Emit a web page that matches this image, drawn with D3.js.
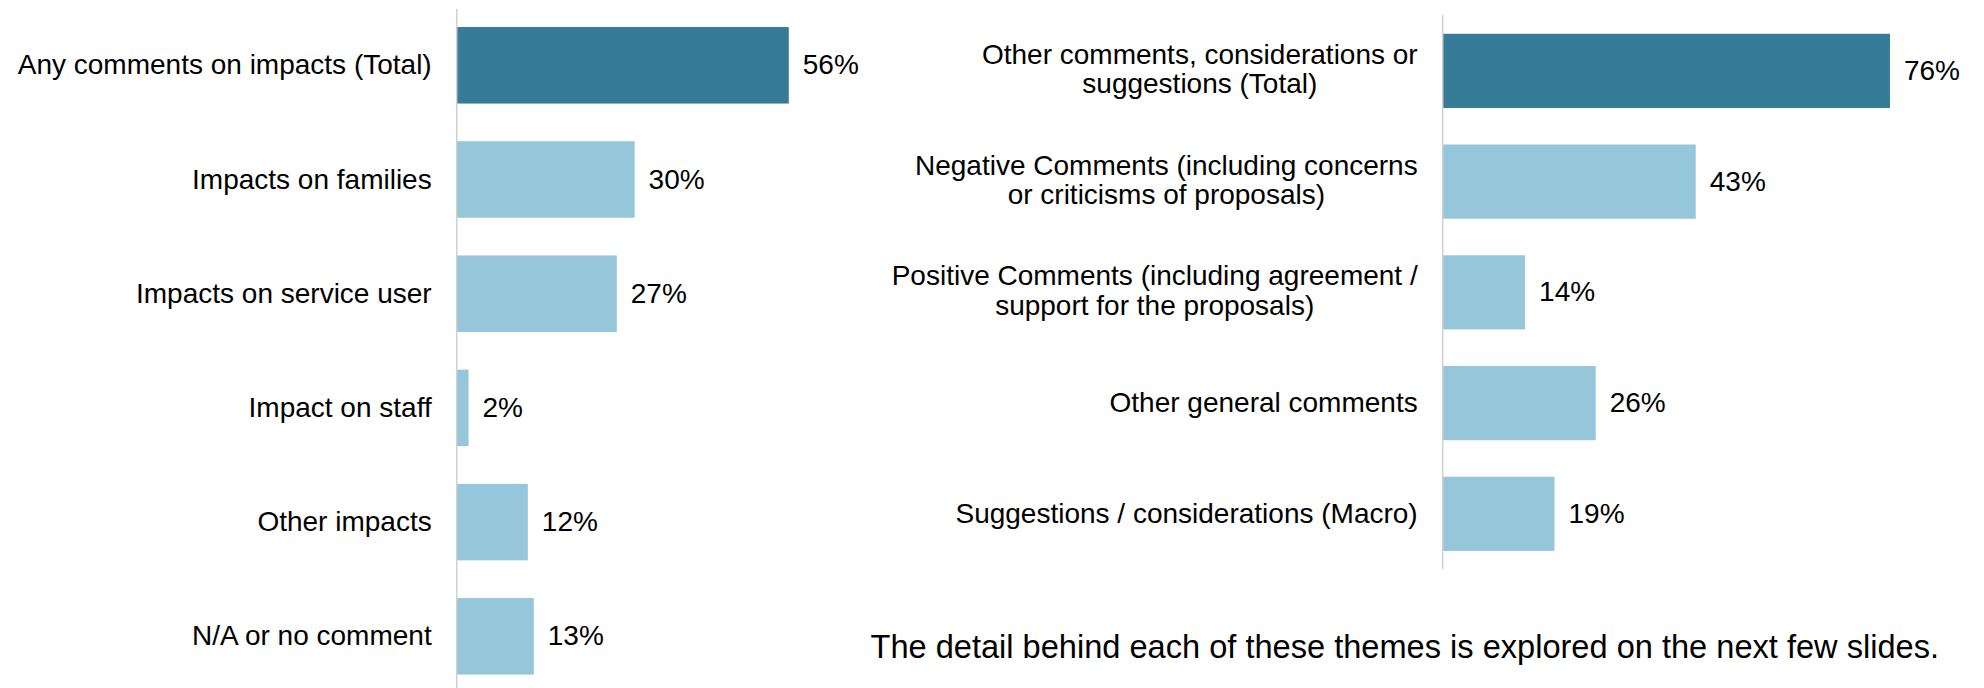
<!DOCTYPE html>
<html><head><meta charset="utf-8">
<script src="https://cdn.jsdelivr.net/npm/d3@7"></script>
<style>html,body{margin:0;padding:0;background:#fff;} svg{display:block;}</style>
</head><body><svg id="c" width="1984" height="688"></svg>
<script>
// ---- data ----
const leftCategories = ["Any comments on impacts (Total)", "Impacts on families", "Impacts on service user", "Impact on staff", "Other impacts", "N/A or no comment"];
const leftValues = [56, 30, 27, 2, 12, 13];
const leftIsTotal = [true, false, false, false, false, false];

const rightCategories = [
  "Other comments, considerations or\nsuggestions (Total)",
  "Negative Comments (including concerns\nor criticisms of proposals)",
  "Positive Comments (including agreement /\nsupport for the proposals)",
  "Other general comments",
  "Suggestions / considerations (Macro)"
];
const rightValues = [76, 43, 14, 26, 19];
const rightIsTotal = [true, false, false, false, false];

const footnote = "The detail behind each of these themes is explored on the next few slides.";

// ---- drawing ----
const W = 1984, H = 688;
const svg = d3.select("#c");
const FONT = "'Liberation Sans', Arial, sans-serif";
const DARK = "#367B97", LIGHT = "#96C6DA", AXIS = "#D0D0D0";

function panel(cfg) {
  const x = d3.scaleLinear().domain([0, 100]).range([cfg.x0, cfg.x0 + cfg.pxPer100]);
  const y = d3.scaleBand().domain(cfg.cats).range([cfg.y0, cfg.y1]).paddingInner(0.33).paddingOuter(0.165);
  const g = svg.append("g");
  const data = cfg.cats.map((c, i) => ({c, v: cfg.vals[i], total: cfg.total[i]}));

  g.selectAll("rect").data(data).join("rect")
    .attr("x", x(0)).attr("y", d => y(d.c))
    .attr("width", d => x(d.v) - x(0)).attr("height", y.bandwidth())
    .attr("fill", d => d.total ? DARK : LIGHT);

  g.append("line")
    .attr("x1", x(0)).attr("x2", x(0))
    .attr("y1", cfg.lineTop).attr("y2", Math.min(cfg.lineBottom, H))
    .attr("stroke", AXIS).attr("stroke-width", 1.5);

  // value labels
  g.selectAll("text.val").data(data).join("text").attr("class", "val")
    .attr("x", d => x(d.v) + 14)
    .attr("y", d => y(d.c) + y.bandwidth() / 2 + 9)
    .attr("font-family", FONT).attr("font-size", 28).attr("fill", "#000")
    .text(d => d.v + "%");

  // category labels (multi-line blocks right-aligned, lines centered)
  const right = x(0) - 25;
  data.forEach(d => {
    const lines = d.c.split("\n");
    const cy = y(d.c) + y.bandwidth() / 2;
    const t = g.append("g");
    const texts = lines.map((ln, k) => {
      const base = lines.length === 1 ? cy + 9 : cy - 7 + k * 29.5;
      return t.append("text").attr("y", base)
        .attr("font-family", FONT).attr("font-size", 28).attr("fill", "#000")
        .text(ln);
    });
    const widths = texts.map(s => s.node().getComputedTextLength());
    const maxW = d3.max(widths);
    texts.forEach(s => s.attr("text-anchor", "middle").attr("x", right - maxW / 2));
  });
}

panel({cats: leftCategories, vals: leftValues, total: leftIsTotal,
  x0: 456.7, pxPer100: 593, y0: 8.2, y1: 693.4, lineTop: 9, lineBottom: 688});
panel({cats: rightCategories, vals: rightValues, total: rightIsTotal,
  x0: 1442.7, pxPer100: 588.5, y0: 15.5, y1: 569.2, lineTop: 15, lineBottom: 569});

svg.append("text").attr("x", 870.5).attr("y", 657.5)
  .attr("font-family", FONT).attr("font-size", 32.6).attr("fill", "#000")
  .text(footnote);
</script>
</body></html>
